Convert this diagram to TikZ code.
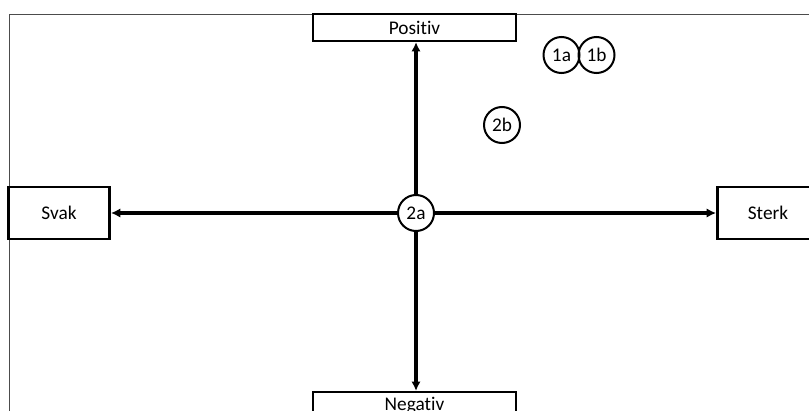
\documentclass[tikz,border=0pt]{standalone}
\usepackage{fontspec}
\setmainfont[Ligatures=NoCommon]{Carlito}
\usetikzlibrary{arrows.meta}

\begin{document}
\begin{tikzpicture}[
  x=0.75pt, y=-0.75pt,
  pole/.style={draw, line width=1.9pt, fill=white, inner sep=0pt,
               font=\fontsize{14.5}{16}\selectfont},
  tag/.style={draw, circle, line width=1.5pt, minimum size=27pt, inner sep=0pt,
              font=\fontsize{14.5}{16}\selectfont},
  axis/.style={line width=2.4pt, -{Latex[length=7pt,width=7pt]}},
]
\useasboundingbox (0,0) rectangle (809,410);
\clip (0,0) rectangle (809,410);

% outer frame
\draw[black!70, line width=1.4pt] (9.5,14.5) rectangle (840,440);

% the four poles
\node[pole, minimum width=152pt, minimum height=20pt] (pos) at (414.5,27.5) {Positiv};
\node[pole, minimum width=152pt, minimum height=20pt] (neg) at (414.5,405.5) {Negativ};
\node[pole, minimum width=76pt, minimum height=39pt] (svak) at (59,213) {Svak};
\node[pole, minimum width=76pt, minimum height=39pt] (sterk) at (768,213) {Sterk};

% markers
\node[tag] (c2a) at (416,213) {2a};
\node[tag] (c2b) at (502,125) {2b};
\node[tag] (c1a) at (561.5,55) {1a};
\node[tag] (c1b) at (596.5,55) {1b};

% axes out from the centre
\draw[axis] (c2a) -- (c2a |- pos.south);
\draw[axis] (c2a) -- (c2a |- neg.north);
\draw[axis] (c2a) -- (svak);
\draw[axis] (c2a) -- (sterk);
\end{tikzpicture}
\end{document}
